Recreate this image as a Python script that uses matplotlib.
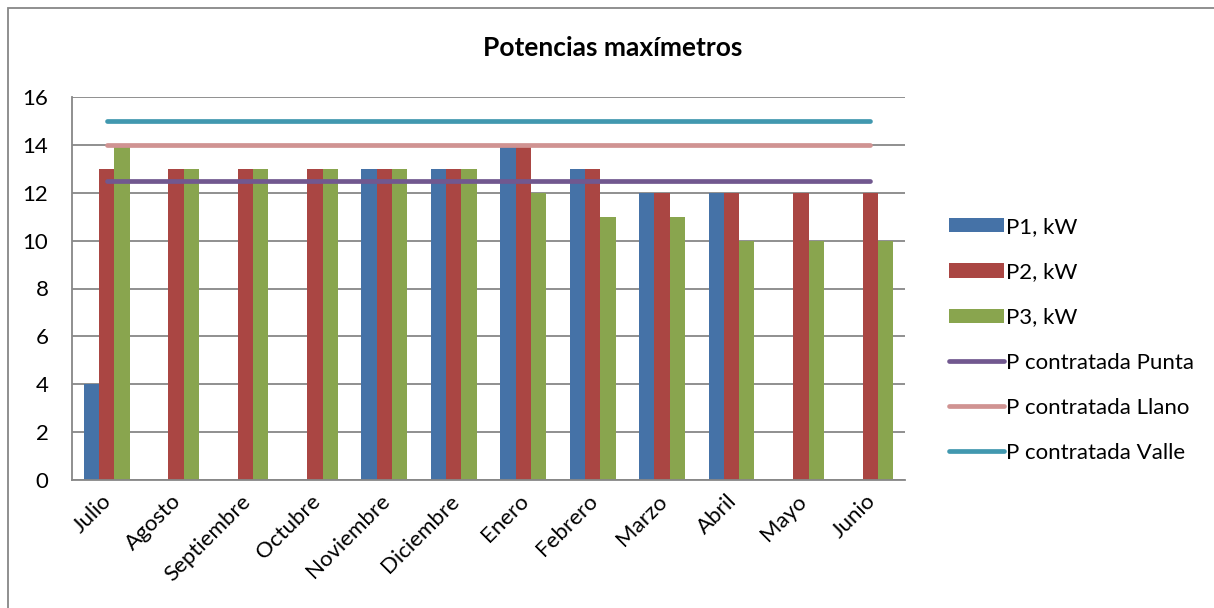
import matplotlib.pyplot as plt
import numpy as np
from matplotlib.patches import Rectangle
from matplotlib.transforms import ScaledTranslation

plt.rcParams['font.family'] = ['Lato', 'DejaVu Sans']

# Datos
meses = ['Julio', 'Agosto', 'Septiembre', 'Octubre', 'Noviembre', 'Diciembre',
         'Enero', 'Febrero', 'Marzo', 'Abril', 'Mayo', 'Junio']
p1 = [4, 0, 0, 0, 13, 13, 14, 13, 12, 12, 0, 0]
p2 = [13, 13, 13, 13, 13, 13, 14, 13, 12, 12, 12, 12]
p3 = [14, 13, 13, 13, 13, 13, 12, 11, 11, 10, 10, 10]
punta = [12.5] * 12
llano = [14] * 12
valle = [15] * 12

fig = plt.figure(figsize=(12.14, 6.08), dpi=100)
ax = fig.add_axes([72 / 1214, 1 - 480 / 608, (905 - 72) / 1214, (480 - 97) / 608])

x = np.arange(len(meses))
w = 0.22
b1 = ax.bar(x - w, p1, w, color='#4572A7', label='P1, kW', zorder=2)
b2 = ax.bar(x, p2, w, color='#AA4643', label='P2, kW', zorder=2)
b3 = ax.bar(x + w, p3, w, color='#89A54E', label='P3, kW', zorder=2)

l1, = ax.plot(x, punta, color='#71588F', lw=3.4, solid_capstyle='round', label='P contratada Punta', zorder=3)
l2, = ax.plot(x, llano, color='#D09392', lw=3.4, solid_capstyle='round', label='P contratada Llano', zorder=3)
l3, = ax.plot(x, valle, color='#4198AF', lw=3.4, solid_capstyle='round', label='P contratada Valle', zorder=3)

ax.set_xlim(-0.5, 11.5)
ax.set_ylim(0, 16)
ax.set_yticks(range(0, 17, 2))
ax.yaxis.grid(True, color='#878787', lw=1.3, zorder=0)
ax.set_axisbelow(True)

for s in ['top', 'right']:
    ax.spines[s].set_visible(False)
for s in ['left', 'bottom']:
    ax.spines[s].set_color('#878787')
    ax.spines[s].set_linewidth(1.3)

ax.tick_params(axis='y', length=0, pad=17, labelsize=16)
ax.tick_params(axis='x', length=0, pad=8, labelsize=16)
ax.set_xticks(x)
ax.set_xticklabels(meses, rotation=45, ha='right', va='top', rotation_mode='anchor')
desplaz = ScaledTranslation(-5 / 100, 0, fig.dpi_scale_trans)
for lab in ax.get_xticklabels():
    lab.set_transform(lab.get_transform() + desplaz)

fig.text(0.505, 1 - 48 / 608, 'Potencias maxímetros', ha='center', va='center',
         fontsize=19, fontweight='bold')

ax.legend([b1, b2, b3, l1, l2, l3],
          [h.get_label() for h in [b1, b2, b3, l1, l2, l3]],
          loc='center left', bbox_to_anchor=(938 / 1214, 1 - 340 / 608),
          bbox_transform=fig.transFigure, frameon=False, fontsize=16,
          handlelength=2.45, handleheight=0.6, handletextpad=0.1,
          labelspacing=1.13, borderpad=0)

# marco exterior
fig.patches.append(Rectangle((8 / 1214, -0.02), 1.1, 1 - 8 / 608 + 0.02,
                             transform=fig.transFigure, fill=False,
                             edgecolor='#878787', lw=1.3))

fig.savefig('out.png', dpi=100)
